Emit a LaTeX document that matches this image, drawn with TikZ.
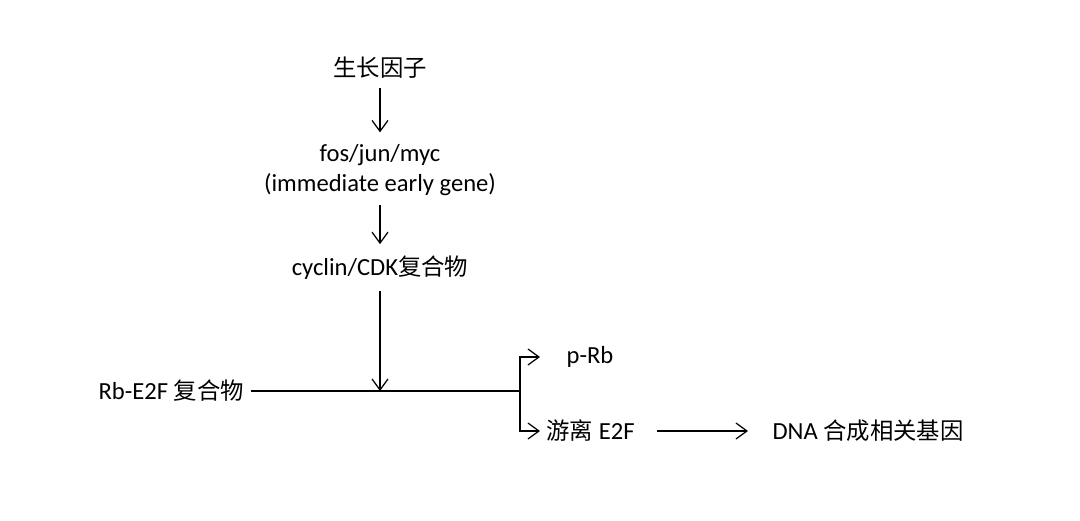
\documentclass[tikz,border=0pt]{standalone}
\usepackage{fontspec}
\setmainfont{Carlito}
\newfontfamily\cjk{Noto Sans CJK SC}[Scale=0.95]
\newcommand{\zh}[1]{{\cjk #1}}
\usetikzlibrary{arrows.meta}
\usetikzlibrary{positioning}
\tikzset{
    tnode/.style = {align=center, inner sep=0pt, text centered, font=\fontsize{14}{17}\selectfont},
    lnode/.style = {tnode, anchor=west},
    flow/.style = {->, line width=0.7pt, black},
    chain/.style = {flow, shorten <=5pt, shorten >=6.5pt}
}

\begin{document}
\begin{tikzpicture}
            [x=0.02cm, y=-0.02cm, line width=0.7pt,
            >={Straight Barb[length=2.2mm, width=3.2mm, line width=0.7pt]}]

            \useasboundingbox (0,0) rectangle (1080,521);

            \node [tnode] (gf) at (380,68) {\zh{生长因子}};
            \node [tnode] (ieg) at (380,170) {fos/jun/myc\\(immediate early gene)};
            \node [tnode] (cdk) at (380,268) {cyclin/CDK\zh{复合物}};
            \node [lnode] (rbe) at (98,391) {Rb-E2F \zh{复合物}};
            \node [lnode] (prb) at (566,357) {p-Rb};
            \node [lnode] (e2f) at (546,431) {\zh{游离} E2F};
            \node [lnode] (dna) at (772,431) {DNA \zh{合成相关基因}};

            % junction points on the Rb-E2F line
            \coordinate (forkx) at (520,0);
            \coordinate (hit) at (rbe.east -| cdk);
            \coordinate (fork) at (rbe.east -| forkx);

            \draw [chain] (gf) -- (ieg);
            \draw [chain] (ieg) -- (cdk);
            \draw [flow, shorten <=6pt] (cdk) -- (hit);
            \draw ([xshift=0.14cm]rbe.east) -- (fork);
            \draw [flow] (fork) |- ([xshift=-0.52cm]prb.west);
            \draw [flow] (fork) |- ([xshift=-0.12cm]e2f.west);
            \draw [flow] ([xshift=0.44cm]e2f.east) -- ([xshift=-0.48cm]dna.west);
\end{tikzpicture}
\end{document}
